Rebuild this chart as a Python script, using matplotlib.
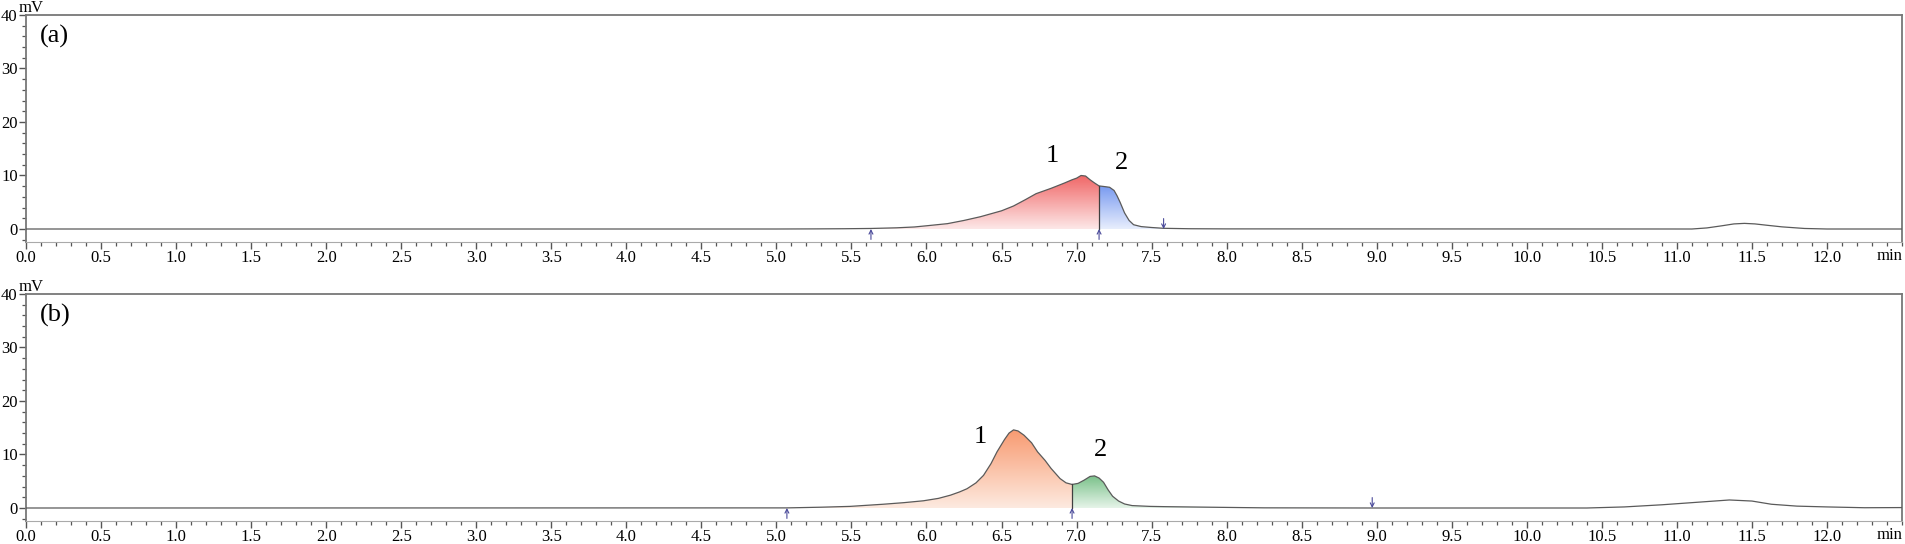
import numpy as np
import matplotlib
matplotlib.use('Agg')
import matplotlib.pyplot as plt
from matplotlib.colors import LinearSegmentedColormap
from matplotlib.patches import Polygon
from matplotlib.ticker import MultipleLocator, FixedLocator

plt.rcParams['font.family'] = ['Liberation Serif', 'DejaVu Serif']

# chromatogram (a): time in min, signal in mV
time_a = [0.0, 5.0, 5.25, 5.45, 5.63, 5.80, 5.92, 6.0, 6.14, 6.25, 6.36, 6.5, 6.58,
          6.66, 6.73, 6.83, 6.92, 6.97, 7.0, 7.03, 7.06, 7.09, 7.12, 7.15, 7.18,
          7.22, 7.25, 7.27, 7.29, 7.32, 7.35, 7.38, 7.43, 7.50, 7.58, 7.75, 8.0,
          11.1, 11.2, 11.3, 11.38, 11.45, 11.52, 11.6, 11.7, 11.85, 12.0, 12.5]
signal_a = [0.0, 0.0, 0.02, 0.05, 0.1, 0.22, 0.38, 0.6, 1.0, 1.6, 2.3, 3.4, 4.3,
            5.5, 6.6, 7.6, 8.6, 9.2, 9.5, 10.0, 9.9, 9.2, 8.6, 8.05, 7.95,
            7.8, 7.2, 6.2, 5.0, 3.0, 1.6, 0.8, 0.45, 0.28, 0.13, 0.05, 0.02,
            0.0, 0.2, 0.6, 0.95, 1.05, 0.95, 0.7, 0.4, 0.1, 0.0, 0.0]

# chromatogram (b)
time_b = [0.0, 5.07, 5.3, 5.49, 5.71, 5.85, 5.98, 6.08, 6.16, 6.22, 6.27, 6.33,
          6.38, 6.43, 6.47, 6.52, 6.55, 6.58, 6.61, 6.65, 6.70, 6.74, 6.79, 6.83,
          6.89, 6.93, 6.97, 7.01, 7.05, 7.09, 7.12, 7.15, 7.18, 7.21, 7.24, 7.28,
          7.32, 7.37, 7.49, 7.59, 7.97, 8.25, 8.97, 10.4, 10.65, 10.9, 11.1,
          11.35, 11.5, 11.63, 11.8, 12.0, 12.25, 12.5]
signal_b = [0.0, 0.02, 0.15, 0.3, 0.7, 1.0, 1.35, 1.8, 2.4, 3.0, 3.6, 4.7,
            6.1, 8.3, 10.5, 12.8, 14.0, 14.6, 14.4, 13.6, 12.2, 10.5, 8.9, 7.4,
            5.5, 4.7, 4.4, 4.6, 5.2, 5.9, 6.0, 5.6, 4.8, 3.4, 2.2, 1.3,
            0.75, 0.45, 0.3, 0.25, 0.12, 0.03, 0.0, 0.0, 0.2, 0.6, 1.0,
            1.5, 1.3, 0.7, 0.35, 0.2, 0.05, 0.08]

# integrated peaks: start / end times
peak_start_a = [5.63, 7.15]
peak_end_a = [7.15, 7.58]
peak_start_b = [5.07, 6.97]
peak_end_b = [6.97, 8.97]

# peak labels
label_text = ['1', '2']
label_pos_a = [(6.84, 13.6), (7.30, 12.3)]
label_pos_b = [(6.36, 13.3), (7.16, 10.8)]

# integration markers
arrows_up_a = [5.63, 7.15]
arrows_down_a = [7.58]
arrows_up_b = [5.07, 6.97]
arrows_down_b = [8.97]

colors_a = [('#f06666', '#fde8e8'), ('#7799f0', '#e8eefd')]
colors_b = [('#f89a70', '#fdeae0'), ('#78c088', '#e6f4e9')]


def gradient_fill(ax, t, y, t0, t1, c_top, c_bot):
    t = np.asarray(t, dtype=float)
    y = np.asarray(y, dtype=float)
    m = (t > t0) & (t < t1)
    tt = np.concatenate([[t0], t[m], [t1]])
    yy = np.concatenate([[np.interp(t0, t, y)], y[m], [np.interp(t1, t, y)]])
    verts = np.column_stack([np.concatenate([tt, [t1, t0]]),
                             np.concatenate([yy, [0, 0]])])
    poly = Polygon(verts, closed=True, facecolor='none', edgecolor='none')
    ax.add_patch(poly)
    cmap = LinearSegmentedColormap.from_list('g', [c_bot, c_top])
    grad = np.linspace(0, 1, 256).reshape(-1, 1)
    im = ax.imshow(grad, cmap=cmap, origin='lower', aspect='auto',
                   extent=[t0, t1, 0, yy.max()], zorder=1, interpolation='bilinear')
    im.set_clip_path(poly)


def draw_panel(ax, t, y, starts, ends, colors, labels, ups, downs, tag):
    for (t0, t1), (ct, cb) in zip(zip(starts, ends), colors):
        gradient_fill(ax, t, y, t0, t1, ct, cb)
    ax.plot(t, y, color='#5a5a5a', lw=0.9, zorder=3)
    # drop line between the two peaks
    ts = ends[0]
    ax.plot([ts, ts], [0, np.interp(ts, t, y)], color='#404040', lw=0.9, zorder=3)
    for txt, (lx, ly) in zip(label_text, labels):
        ax.text(lx, ly, txt, fontsize=19, ha='center', va='center', zorder=4)
    for u in ups:
        ax.annotate('', xy=(u, 0), xytext=(0, -7.5), textcoords='offset points',
                    arrowprops=dict(arrowstyle='->', color='#4a4a9a', lw=0.8,
                                    mutation_scale=7, shrinkA=0, shrinkB=0), zorder=4)
    for d in downs:
        ax.annotate('', xy=(d, 0), xytext=(0, 7.5), textcoords='offset points',
                    arrowprops=dict(arrowstyle='->', color='#4a4a9a', lw=0.8,
                                    mutation_scale=7, shrinkA=0, shrinkB=0), zorder=4)

    ax.set_xlim(0, 12.5)
    ax.set_ylim(-2.43, 40)
    ax.xaxis.set_major_locator(FixedLocator(np.arange(0, 12.01, 0.5)))
    ax.xaxis.set_minor_locator(MultipleLocator(0.1))
    ax.set_xticklabels(['%.1f' % v for v in np.arange(0, 12.01, 0.5)])
    ax.yaxis.set_major_locator(FixedLocator([0, 10, 20, 30, 40]))
    ax.yaxis.set_minor_locator(MultipleLocator(2))
    ax.tick_params(axis='both', which='major', labelsize=12, length=5, width=1,
                   color='#555555', direction='out')
    ax.tick_params(axis='both', which='minor', length=3, width=0.9,
                   color='#555555', direction='out')
    ax.tick_params(axis='x', pad=0.5)
    ax.tick_params(axis='y', pad=1)
    for s in ['top', 'left', 'right']:
        ax.spines[s].set_color('#777777')
        ax.spines[s].set_linewidth(1.3)
    ax.spines['bottom'].set_color('#aaaaaa')
    ax.spines['bottom'].set_linewidth(0.8)

    ax.text(0.09, 36.0, '(' + tag + ')', fontsize=19, ha='left', va='center')
    ax.annotate('mV', xy=(0, 1), xycoords='axes fraction', xytext=(-5, -1),
                textcoords='offset points', ha='left', va='bottom', fontsize=12)
    ax.annotate('min', xy=(1, 0), xycoords='axes fraction', xytext=(0, -4),
                textcoords='offset points', ha='right', va='top', fontsize=12)


fig = plt.figure(figsize=(19.05, 5.44), dpi=100)
ax_a = fig.add_axes([26 / 1905, 1 - 242 / 544, 1876 / 1905, 227 / 544])
ax_b = fig.add_axes([26 / 1905, 1 - 521 / 544, 1876 / 1905, 227 / 544])

draw_panel(ax_a, time_a, signal_a, peak_start_a, peak_end_a, colors_a,
           label_pos_a, arrows_up_a, arrows_down_a, 'a')
draw_panel(ax_b, time_b, signal_b, peak_start_b, peak_end_b, colors_b,
           label_pos_b, arrows_up_b, arrows_down_b, 'b')

fig.savefig('out.png', dpi=100)
